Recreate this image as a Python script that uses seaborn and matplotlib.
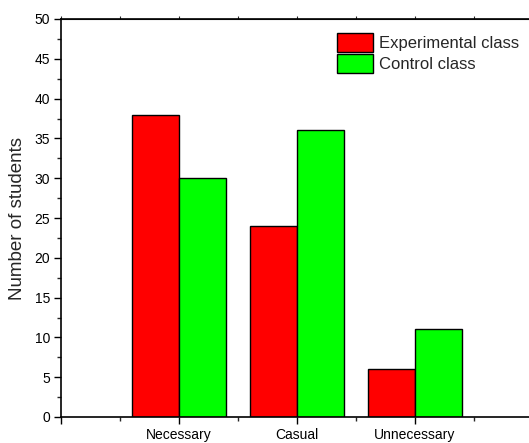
import numpy as np
import pandas as pd
import matplotlib
matplotlib.use("Agg")
import matplotlib.pyplot as plt
import seaborn as sns
from matplotlib.ticker import MultipleLocator, FixedLocator

categories   = ["Necessary", "Casual", "Unnecessary"]
experimental = [38, 24, 6]
control      = [30, 36, 11]
groups       = ["Experimental class", "Control class"]
colors       = ["#FF0000", "#00FF00"]

df = pd.DataFrame({
    "category": categories * 2,
    "count":    experimental + control,
    "group":    [groups[0]] * 3 + [groups[1]] * 3,
})

sns.set_style("ticks")
plt.rcParams["font.family"] = ["Liberation Sans", "DejaVu Sans"]

fig = plt.figure(figsize=(5.29, 4.43), dpi=100, facecolor="white")
# axes run past the right edge of the picture, as in the original crop
ax = fig.add_axes([61 / 529, 26 / 443, 468 / 529, 398 / 443])

sns.barplot(data=df, x="category", y="count", hue="group", order=categories,
            hue_order=groups, palette=colors, edgecolor="black", linewidth=1,
            width=0.8, gap=0, saturation=1, ax=ax)

ax.set_xlim(-1, -1 + 4 * 468 / 472)
ax.set_ylim(0, 50)
ax.yaxis.set_major_locator(MultipleLocator(5))
ax.yaxis.set_minor_locator(MultipleLocator(2.5))
ax.xaxis.set_major_locator(FixedLocator([-1, 0, 1, 2]))
ax.set_xticklabels(["", "Necessary", "Casual", "Unnecessary"])
ax.xaxis.set_minor_locator(FixedLocator([-0.5, 0.5, 1.5, 2.5]))

ax.tick_params(axis="both", which="major", direction="out", length=5, width=1,
               labelsize=10, colors="black", pad=3)
ax.tick_params(axis="both", which="minor", direction="out", length=3, width=1)
# tiny ticks on the top axis line
ax.secondary_xaxis("top").tick_params(which="both", length=2, width=0.8,
                                      labeltop=False)

for side in ["left", "bottom", "top"]:
    ax.spines[side].set_visible(True)
    ax.spines[side].set_linewidth(1.2)
    ax.spines[side].set_color("black")
ax.spines["right"].set_visible(False)

ax.set_xlabel("")
ax.set_ylabel("Number of students", fontsize=13.5, labelpad=6)

sns.move_legend(ax, "upper left", bbox_to_anchor=(276 / 468, 0.966), frameon=False,
                title=None, fontsize=12, handlelength=2.15, handleheight=1.4,
                labelspacing=0.12, handletextpad=0.35, borderpad=0, borderaxespad=0)

fig.savefig("out.png", dpi=100)
